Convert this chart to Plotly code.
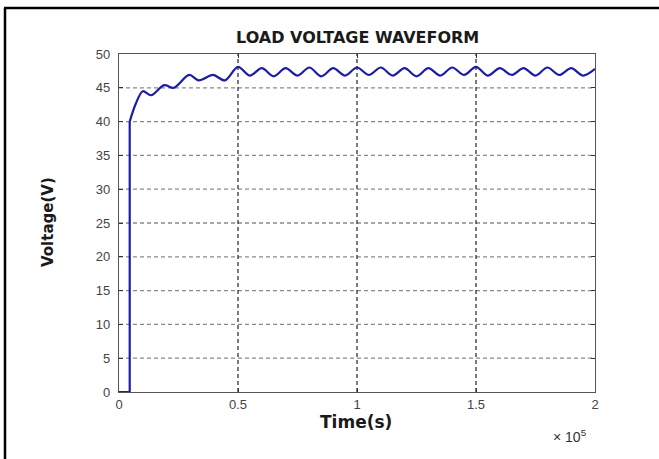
import plotly.graph_objects as go

# time in seconds, voltage in volts
t_step = [0, 4500, 4500]
v_step = [0, 0, 40]

t_wave = [4500, 7000, 10000, 13500, 19000, 23000, 29500, 33500, 39500, 44500,
          50000, 55000, 60000, 65000, 70000, 75000, 80000, 85000, 90000, 95000,
          100000, 105000, 110000, 115000, 120000, 125000, 130000, 135000, 140000, 145000,
          150000, 155000, 160000, 165000, 170000, 175000, 180000, 185000, 190000, 195000,
          200000]
v_wave = [40.0, 42.6, 44.5, 43.9, 45.4, 45.0, 46.9, 46.1, 46.9, 46.1,
          48.1, 46.8, 47.9, 46.7, 47.9, 46.8, 48.0, 46.7, 47.9, 46.8,
          48.0, 46.9, 48.0, 46.8, 47.9, 46.7, 47.9, 46.8, 48.0, 46.9,
          48.1, 46.8, 47.9, 46.9, 47.9, 46.8, 48.0, 46.9, 47.9, 46.8,
          47.8]

x_ticks = [0, 50000, 100000, 150000, 200000]
x_labels = ["0", "0.5", "1", "1.5", "2"]
y_ticks = [0, 5, 10, 15, 20, 25, 30, 35, 40, 45, 50]

W, H = 659, 459
L, R, T, B = 119, 595, 54, 392

line_style = dict(color="#1c1ca6", width=2.2)

fig = go.Figure()
fig.add_trace(go.Scatter(x=t_step, y=v_step, mode="lines", line=line_style,
                         showlegend=False, hoverinfo="skip"))
fig.add_trace(go.Scatter(x=t_wave, y=v_wave, mode="lines",
                         line=dict(line_style, shape="spline", smoothing=0.9),
                         showlegend=False))

# horizontal dotted grid (gray) and vertical grid (black)
for yv in y_ticks[1:-1]:
    fig.add_shape(type="line", xref="paper", yref="y", x0=0, x1=1, y0=yv, y1=yv,
                  line=dict(color="#8a8a8a", width=1.3, dash="4px,3px"), layer="below")
for xv in x_ticks[1:-1]:
    fig.add_shape(type="line", xref="x", yref="paper", x0=xv, x1=xv, y0=0, y1=1,
                  line=dict(color="#222222", width=1.2, dash="4px,3px"), layer="below")

def px(xp):
    return (xp - L) / (R - L)

def py(yp):
    return (B - yp) / (B - T)

# outer frame of the document figure
fig.add_shape(type="line", xref="paper", yref="paper", x0=px(4), x1=px(659),
              y0=py(8), y1=py(8), line=dict(color="black", width=2.5))
fig.add_shape(type="line", xref="paper", yref="paper", x0=px(5), x1=px(5),
              y0=py(8), y1=py(459), line=dict(color="black", width=2.5))

def label(text, x, y, size, angle=0, color="#1a1a1a", family="DejaVu Sans"):
    fig.add_annotation(text=text, xref="paper", yref="paper", x=px(x), y=py(y),
                       xanchor="center", yanchor="middle", showarrow=False,
                       textangle=angle, font=dict(family=family, size=size, color=color))

label("<b>LOAD VOLTAGE WAVEFORM</b>", 357, 38, 16)
label("<b>Time(s)</b>", 356, 422, 17)
label("<b>Voltage(V)</b>", 48, 222, 15, angle=-90)
label("× 10<sup>5</sup>", 570, 436, 14, color="#333333", family="Liberation Sans")

axis_common = dict(showgrid=False, zeroline=False, showline=True, mirror="ticks",
                   linecolor="#555555", linewidth=1.2, ticks="inside", ticklen=4,
                   tickcolor="#333333",
                   tickfont=dict(family="Liberation Sans", size=13, color="#444444"))

fig.update_xaxes(range=[0, 200000], tickvals=x_ticks, ticktext=x_labels, **axis_common)
fig.update_yaxes(range=[0, 50], tickvals=y_ticks, ticklabelstandoff=5, **axis_common)

fig.update_layout(width=W, height=H, autosize=False,
                  margin=dict(l=L, r=W - R, t=T, b=H - B),
                  paper_bgcolor="white", plot_bgcolor="white")

fig.write_html("out.html", config={"displayModeBar": False},
               post_script="document.body.style.margin='0';document.body.style.overflow='hidden';")
